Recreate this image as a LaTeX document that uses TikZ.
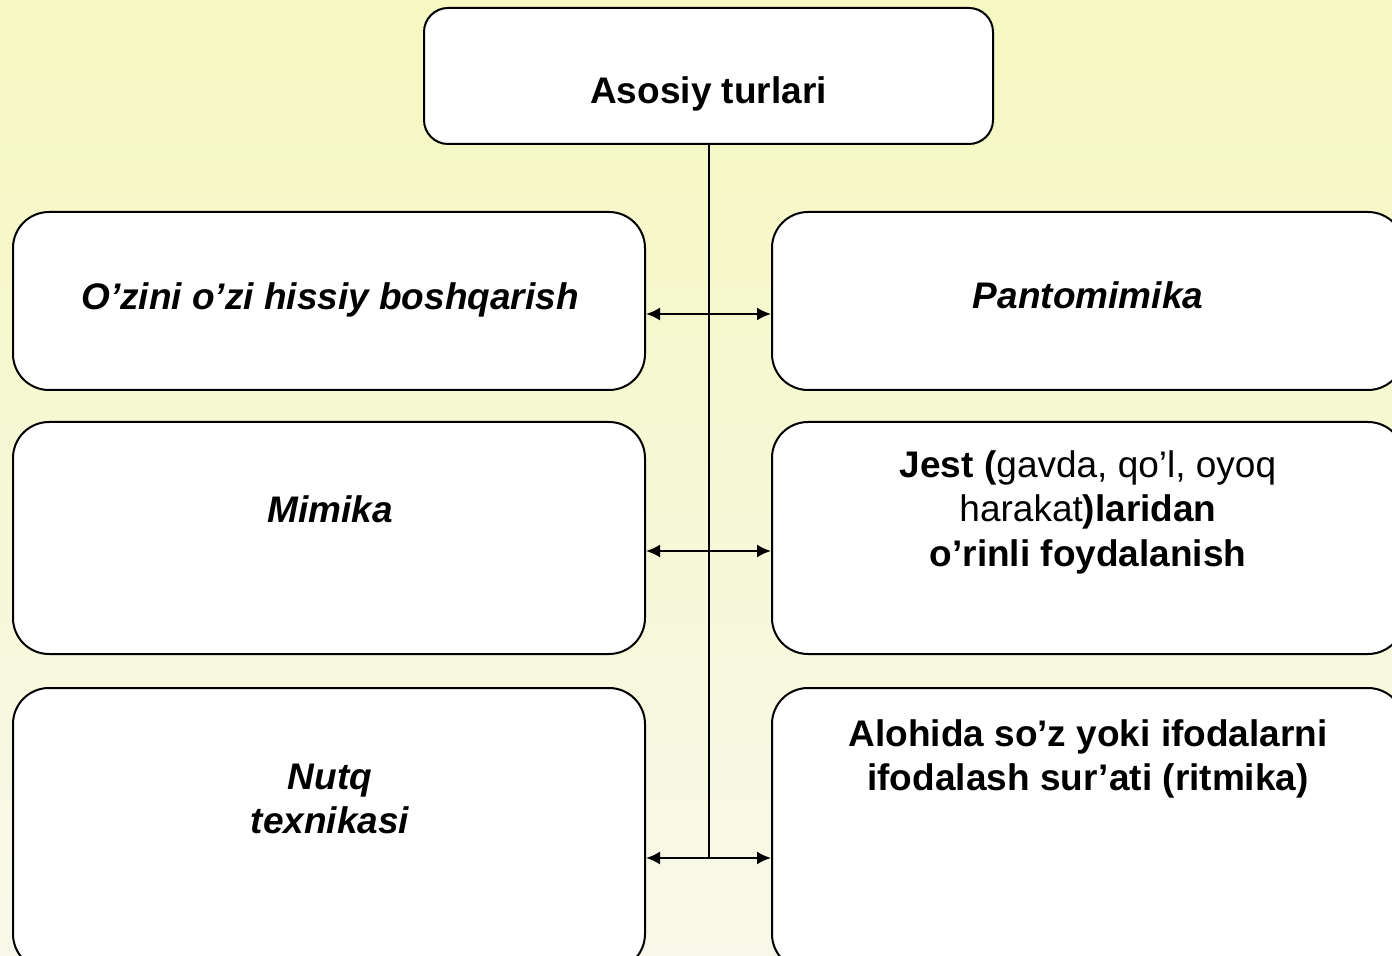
\documentclass[tikz,border=0pt]{standalone}
\usepackage{fontspec}
\setmainfont{Liberation Sans}
\usetikzlibrary{positioning,arrows.meta}
\definecolor{bgtop}{HTML}{F5F8C0}
\definecolor{bgbot}{HTML}{F8F8EA}

\tikzset{
  box/.style={draw, line width=1pt, fill=white, rounded corners=18pt, minimum width=316pt, inner sep=0pt},
  topbox/.style={box, rounded corners=12pt, minimum width=284.5pt, minimum height=68pt},
  txt/.style={align=center, font=\fontsize{18.5}{22.25}\selectfont\bfseries},
  itxt/.style={align=center, font=\fontsize{18.5}{22.25}\selectfont\bfseries\itshape},
  link/.style={line width=1pt, {Latex[length=7pt,width=6.5pt]}-{Latex[length=7pt,width=6.5pt]}},
}

\begin{document}
\begin{tikzpicture}[x=0.5pt,y=-0.5pt]
  \useasboundingbox (0,0) rectangle (1392,956);
  \clip (0,0) rectangle (1392,956);
  \fill[top color=bgtop, bottom color=bgbot] (0,0) rectangle (1392,956);

  % boxes
  \node[topbox] (top) at (708.5,76) {};
  \node[box, minimum height=89pt]  (l1) at (329,301)    {};
  \node[box, minimum height=89pt]  (r1) at (1088,301)   {};
  \node[box, minimum height=116pt] (l2) at (329,538)    {};
  \node[box, minimum height=116pt] (r2) at (1088,538)   {};
  \node[box, minimum height=141pt] (l3) at (329,829)    {};
  \node[box, minimum height=141pt] (r3) at (1088,829)   {};

  % texts
  \node[txt]  (ttop) at (708.5,94) {Asosiy turlari};
  \node[itxt] (tl1) at (330,300) {O’zini o’zi hissiy boshqarish};
  \node[itxt] (tr1) at (1088,295) {Pantomimika};
  \node[itxt] (tl2) at (330,509) {Mimika};
  \node[txt]  (tr2) at (1088,512) {Jest (\mdseries gavda, qo’l, oyoq\\
    \mdseries harakat\bfseries)laridan\\ o’rinli foydalanish};
  \node[itxt] (tl3) at (330,799) {Nutq\\ texnikasi};
  \node[txt]  (tr3) at (1088,759) {Alohida so’z yoki ifodalarni\\
    ifodalash sur’ati (ritmika)};

  % connectors
  \coordinate (j1) at (709,314);
  \coordinate (j2) at (709,551);
  \coordinate (j3) at (709,858);
  \draw[line width=1pt] (top.south) -- (top.south |- j3);
  \path[link]
    (j1 -| l1.east) edge (j1 -| r1.west)
    (j2 -| l2.east) edge (j2 -| r2.west)
    (j3 -| l3.east) edge (j3 -| r3.west);
\end{tikzpicture}
\end{document}
